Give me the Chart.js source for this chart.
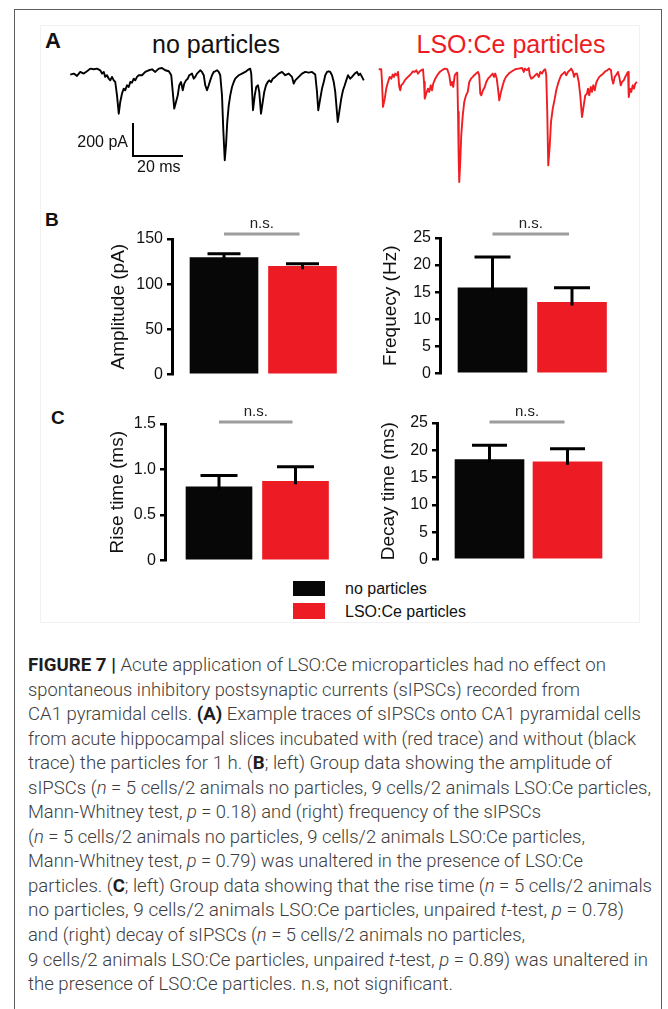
<!DOCTYPE html>
<html lang="en">
<head>
<meta charset="utf-8">
<title>Figure 7 - sIPSCs with and without LSO:Ce particles</title>
<script src="https://cdn.jsdelivr.net/npm/chart.js@4.4.1/dist/chart.umd.min.js"></script>
<style>
  html, body { margin: 0; padding: 0; background: #fff; }
  body { position: relative; width: 668px; height: 1009px; overflow: hidden;
         font-family: "Liberation Sans", Arial, Helvetica, sans-serif; color: #111; }
  #frame { position: absolute; left: 14px; top: 9px; width: 648px; height: 1060px;
           border: 1.5px solid #5e5e5e; box-sizing: border-box; }
  #figbox { position: absolute; left: 40px; top: 25px; width: 600px; height: 598px;
            border: 1px solid #f1f1f1; box-sizing: border-box; }
  canvas { position: absolute; }
  .lbl { position: absolute; white-space: nowrap; line-height: 1; }
  .swatch { position: absolute; left: 293px; width: 32px; }
  #caption { position: absolute; left: 28px; top: 653px; color: #3d3d3d; font-size: 18px;
             font-family: Roboto, "Liberation Sans", Arial, sans-serif; font-weight: 300; }
  #caption div { height: 24.55px; line-height: 24.55px; white-space: nowrap; transform-origin: 0 50%; }
  #caption b { color: #1e1e1e; font-weight: 700; }
</style>
</head>
<body>
<div id="frame"></div>
<div id="figbox"></div>

<canvas id="traceBlack"></canvas>
<canvas id="traceRed"></canvas>
<canvas id="bAmp"></canvas>
<canvas id="bFreq"></canvas>
<canvas id="cRise"></canvas>
<canvas id="cDecay"></canvas>

<div class="swatch" id="swBlack" style="top:581px;height:15px;"></div>
<div class="swatch" id="swRed" style="top:603px;height:16px;"></div>

<div id="caption">
  <div><b>FIGURE 7 |</b> Acute application of LSO:Ce microparticles had no effect on</div>
  <div>spontaneous inhibitory postsynaptic currents (sIPSCs) recorded from</div>
  <div>CA1 pyramidal cells. <b>(A)</b> Example traces of sIPSCs onto CA1 pyramidal cells</div>
  <div>from acute hippocampal slices incubated with (red trace) and without (black</div>
  <div>trace) the particles for 1 h. (<b>B</b>; left) Group data showing the amplitude of</div>
  <div>sIPSCs (<i>n</i> = 5 cells/2 animals no particles, 9 cells/2 animals LSO:Ce particles,</div>
  <div>Mann-Whitney test, <i>p</i> = 0.18) and (right) frequency of the sIPSCs</div>
  <div>(<i>n</i> = 5 cells/2 animals no particles, 9 cells/2 animals LSO:Ce particles,</div>
  <div>Mann-Whitney test, <i>p</i> = 0.79) was unaltered in the presence of LSO:Ce</div>
  <div>particles. (<b>C</b>; left) Group data showing that the rise time (<i>n</i> = 5 cells/2 animals</div>
  <div>no particles, 9 cells/2 animals LSO:Ce particles, unpaired <i>t</i>-test, <i>p</i> = 0.78)</div>
  <div>and (right) decay of sIPSCs (<i>n</i> = 5 cells/2 animals no particles,</div>
  <div>9 cells/2 animals LSO:Ce particles, unpaired <i>t</i>-test, <i>p</i> = 0.89) was unaltered in</div>
  <div>the presence of LSO:Ce particles. n.s, not significant.</div>
</div>

<script>
// ---------------------------------------------------------------
// Data
// ---------------------------------------------------------------
const groups = ['no particles', 'LSO:Ce particles'];

// Panel B / C group means and upward error (SEM)
const amplitudeMean = [129.5, 119.7];
const amplitudeErr  = [4.1, 2.9];
const frequencyMean = [15.8, 13.1];
const frequencyErr  = [5.7, 2.7];
const riseMean      = [0.81, 0.87];
const riseErr       = [0.125, 0.16];
const decayMean     = [18.3, 17.9];
const decayErr      = [2.6, 2.4];

// Tick values / labels
const amplitudeTicks = [0, 50, 100, 150];
const frequencyTicks = [0, 5, 10, 15, 20, 25];
const riseTicks      = [0, 0.5, 1.0, 1.5];
const riseTickLabels = ['0', '0.5', '1.0', '1.5'];
const decayTicks     = [0, 5, 10, 15, 20, 25];

// Panel A example traces (time in ms, current in pA, 0 = top of baseline)
const blackTimeMs = [
  0.1, 1.5, 2.8, 4.1, 5.5, 6.8, 8.1, 9.5, 10.8, 12.1,
  12.8, 13.5, 14.1, 14.8, 15.5, 16.1, 16.8, 17.5, 18.1, 18.8,
  19.5, 20.1, 20.8, 21.5, 22.1, 22.8, 23.5, 24.1, 24.8, 25.5,
  26.1, 26.8, 27.5, 28.8, 30.1, 31.5, 32.8, 34.1, 35.5, 36.8,
  38.1, 39.5, 40.1, 40.5, 41.1, 41.7, 42.4, 43.1, 43.7, 44.4,
  45.1, 45.7, 46.4, 47.1, 47.7, 48.8, 49.5, 50.1, 50.8, 51.5,
  52.1, 52.8, 53.5, 54.1, 54.8, 55.5, 56.1, 56.8, 57.5, 58.1,
  58.8, 59.5, 60.1, 60.8, 61.3, 61.9, 62.4, 62.9, 63.5, 64.1,
  64.8, 65.5, 66.1, 66.8, 67.5, 68.8, 70.1, 71.5, 72.1, 72.5,
  73.2, 73.9, 74.5, 75.2, 75.7, 76.4, 77.1, 77.7, 78.4, 79.1,
  79.7, 80.4, 81.1, 82.1, 83.5, 84.8, 86.1, 87.5, 88.8, 89.5,
  90.1, 91.5, 92.8, 94.1, 95.5, 96.8, 98.1, 98.8, 99.3, 100.1,
  100.8, 101.5, 102.1, 102.8, 103.5, 104.1, 104.8, 105.5, 106.1, 107.1,
  107.9, 108.5, 109.2, 109.9, 110.5, 111.2, 112.1, 112.8, 113.9, 114.8,
  115.5, 116.1, 116.8, 117.5
];
const blackCurrentPA = [
  -28, -22, -36, -12, -22, -8, 8, 4, 8, -2,
  -22, -12, -42, -32, -53, -63, -42, -63, -73, -154,
  -265, -194, -143, -113, -123, -93, -103, -73, -77, -53,
  -63, -42, -32, -32, -12, -2, 4, -12, 8, 12,
  -2, -8, -22, -32, -133, -234, -194, -154, -93, -73,
  -123, -83, -63, -53, -32, -22, -53, -42, -22, -12,
  -2, -12, -32, -93, -123, -93, -63, -32, -12, -8,
  -2, -12, -32, -154, -356, -547, -457, -315, -214, -154,
  -103, -73, -53, -42, -32, -22, -12, 4, 8, -22,
  -244, -154, -103, -93, -133, -265, -194, -133, -93, -73,
  -63, -73, -53, -42, -22, -12, -32, -22, -42, -83,
  -63, -42, -22, -12, -16, -12, -28, -133, -244, -174,
  -113, -73, -32, -12, -8, -12, -32, -73, -133, -315,
  -234, -174, -123, -93, -63, -32, -53, -42, -22, -12,
  -32, -22, -42, -63
];
const redTimeMs = [
  0.3, 1.3, 1.6, 2.0, 2.7, 3.3, 4.0, 4.7, 5.3, 5.9,
  6.4, 6.9, 7.6, 8.0, 8.5, 8.9, 9.3, 10.0, 10.7, 11.3,
  12.0, 12.7, 13.3, 14.0, 14.7, 15.3, 16.0, 16.7, 17.3, 18.0,
  18.4, 18.7, 19.3, 20.0, 20.5, 21.1, 21.6, 22.1, 22.9, 23.7,
  24.7, 25.6, 26.7, 27.7, 28.5, 29.1, 29.6, 30.1, 30.7, 31.2,
  31.7, 32.0, 32.3, 32.5, 32.9, 33.3, 33.9, 34.5, 35.2, 35.9,
  36.5, 37.2, 37.9, 38.5, 39.2, 40.0, 40.5, 40.9, 41.3, 42.0,
  42.7, 43.3, 44.0, 44.7, 45.3, 45.9, 46.4, 46.9, 47.5, 48.0,
  48.5, 49.2, 49.9, 50.5, 51.2, 52.3, 53.6, 54.9, 56.3, 57.6,
  58.3, 58.7, 59.6, 60.3, 60.7, 61.3, 62.3, 62.9, 63.6, 64.3,
  64.9, 65.6, 66.3, 66.9, 67.3, 67.7, 68.1, 68.7, 69.2, 69.9,
  70.7, 71.3, 72.0, 72.7, 73.3, 74.0, 74.7, 75.3, 76.0, 76.7,
  77.3, 78.0, 78.4, 78.9, 79.6, 80.3, 80.9, 81.6, 82.3, 82.9,
  83.6, 84.0, 84.5, 85.1, 85.6, 86.1, 86.7, 87.2, 87.7, 88.5,
  89.3, 90.1, 90.9, 91.7, 92.5, 93.2, 93.6, 94.1, 94.7, 95.2,
  96.0, 96.5, 97.1, 97.6, 98.3, 98.9, 99.6, 100.0, 100.3, 100.8,
  101.3, 101.9, 102.4, 102.9, 103.6
];
const redCurrentPA = [
  4, 4, -73, -224, -174, -113, -73, -42, -53, -28,
  -42, -22, -32, -12, -103, -123, -93, -83, -63, -53,
  -42, -32, -22, -8, -12, -2, -22, -8, -2, 4,
  -73, -174, -143, -113, -133, -93, -123, -83, -53, -32,
  -12, -2, 8, 4, -32, -93, -73, -103, -32, -22,
  -16, -255, -558, -679, -558, -396, -275, -194, -154, -133,
  -73, -53, -42, -32, -22, -12, -32, -143, -154, -123,
  -103, -73, -53, -42, -32, -22, -42, -22, -53, -113,
  -184, -133, -93, -63, -42, -22, -8, 4, 8, 12,
  -12, 8, -2, 12, -32, -53, -42, -32, -22, -42,
  -12, -22, -2, 4, -32, -255, -578, -457, -315, -234,
  -174, -123, -83, -53, -32, -22, -12, -32, -12, -2,
  8, -12, -42, -22, -22, -73, -154, -285, -214, -154,
  -143, -113, -154, -103, -133, -93, -123, -83, -63, -42,
  -32, -22, -8, -2, 8, -2, -53, -83, -42, -32,
  -12, -42, -93, -73, -63, -42, -22, -12, -164, -113,
  -133, -93, -113, -83, -73
];

// Scale bar: 200 pA / 20 ms
const SCALE_BAR_MS = 20;
const SCALE_BAR_PA = 200;

// ---------------------------------------------------------------
// Styles / layout
// ---------------------------------------------------------------
const FONT = '"Liberation Sans", Arial, Helvetica, sans-serif';
const BLACK = '#070707';
const RED = '#ED1C24';
const groupColors = [BLACK, RED];

document.getElementById('swBlack').style.background = BLACK;
document.getElementById('swRed').style.background = RED;

function placeLabel(text, x, cy, anchor, size, color, bold) {
  const el = document.createElement('div');
  el.className = 'lbl';
  el.textContent = text;
  el.style.left = x + 'px';
  el.style.top = cy + 'px';
  el.style.fontSize = size + 'px';
  el.style.color = color || '#111';
  if (bold) el.style.fontWeight = 'bold';
  const tx = anchor === 'center' ? '-50%' : anchor === 'right' ? '-100%' : '0';
  el.style.transform = 'translate(' + tx + ', -50%)';
  document.body.appendChild(el);
}

placeLabel('A', 45, 41, 'left', 22, '#111', true);
placeLabel('B', 45, 219, 'left', 19, '#111', true);
placeLabel('C', 51, 417, 'left', 19, '#111', true);
placeLabel('no particles', 216, 44, 'center', 25, '#111');
placeLabel('LSO:Ce particles', 511, 44, 'center', 25, RED);
placeLabel('200 pA', 128, 142, 'right', 16, '#111');
placeLabel('20 ms', 137, 167, 'left', 16, '#111');
placeLabel(groups[0], 345, 589, 'left', 16, '#111');
placeLabel(groups[1], 345, 612, 'left', 16, '#111');

// ---------------------------------------------------------------
// Panel A traces
// ---------------------------------------------------------------
const TRACE_PA_MIN = -697, TRACE_PA_MAX = 30;
const PX_PER_MS = 2.5;
const TRACE_PAD = 4;

function traceChart(id, left, top, timeMs, currentPA, color, extraSets) {
  const tMax = timeMs[timeMs.length - 1];
  const canvas = document.getElementById(id);
  canvas.width = Math.round(tMax * PX_PER_MS) + 2 * TRACE_PAD;
  canvas.height = 120 + 2 * TRACE_PAD;
  canvas.style.left = (left - TRACE_PAD) + 'px';
  canvas.style.top = (top - TRACE_PAD) + 'px';
  const sets = [{
    data: timeMs.map((t, i) => ({ x: t, y: currentPA[i] })),
    borderColor: color,
    borderWidth: 1.9,
    pointRadius: 0,
    tension: 0,
    borderJoinStyle: 'round',
    clip: false
  }].concat(extraSets || []);
  return new Chart(canvas, {
    type: 'line',
    data: { datasets: sets },
    options: {
      responsive: false,
      animation: false,
      layout: { padding: TRACE_PAD },
      plugins: { legend: { display: false }, tooltip: { enabled: false } },
      scales: {
        x: { type: 'linear', display: false, min: 0, max: Math.round(tMax * PX_PER_MS) / PX_PER_MS },
        y: { type: 'linear', display: false, min: TRACE_PA_MIN, max: TRACE_PA_MAX }
      }
    }
  });
}

// scale bar corner (ms, pA) inside the black trace's axes
const barCornerMs = 25.2, barCornerPA = -521;
const scaleBarSet = {
  data: [
    { x: barCornerMs, y: barCornerPA + SCALE_BAR_PA },
    { x: barCornerMs, y: barCornerPA },
    { x: barCornerMs + SCALE_BAR_MS, y: barCornerPA }
  ],
  borderColor: '#000',
  borderWidth: 2,
  pointRadius: 0,
  tension: 0,
  borderJoinStyle: 'miter',
  clip: false
};

traceChart('traceBlack', 70, 65, blackTimeMs, blackCurrentPA, '#000', [scaleBarSet]);
traceChart('traceRed', 378, 65, redTimeMs, redCurrentPA, '#F01E23');

// ---------------------------------------------------------------
// Panels B / C bar charts
// ---------------------------------------------------------------
function barChart(id, g, means, errs, ticks, tickLabels, yTitle) {
  const TITLE_LH = 19 * 1.2;
  const yAxisW = Math.round(g.axisX - g.titleX + TITLE_LH / 2);
  const padTop = 32, padBottom = 12, padRight = 4;
  const areaW = Math.round(g.c2 + g.barW / 2 + 6 - g.axisX);
  const spacing = g.c2 - g.c1;
  const canvas = document.getElementById(id);
  canvas.width = yAxisW + areaW + padRight;
  canvas.height = (g.yBottom - g.yTop) + padTop + padBottom;
  const canvasTop = g.yTop - padTop;
  canvas.style.left = (g.axisX - yAxisW) + 'px';
  canvas.style.top = canvasTop + 'px';

  const marks = {
    id: 'marks',
    afterDatasetsDraw(chart) {
      const { ctx, scales: { x, y } } = chart;
      ctx.save();
      // error bars (upward only)
      ctx.strokeStyle = '#000';
      ctx.lineWidth = 3;
      ctx.lineCap = 'butt';
      means.forEach((m, i) => {
        const px = x.getPixelForValue(i + 1);
        const y0 = y.getPixelForValue(m) + 3;
        const y1 = y.getPixelForValue(m + errs[i]);
        ctx.beginPath();
        ctx.moveTo(px, y0); ctx.lineTo(px, y1);
        ctx.moveTo(px - g.capW / 2, y1); ctx.lineTo(px + g.capW / 2, y1);
        ctx.stroke();
      });
      // n.s. bracket
      const x1 = x.getPixelForValue(1), x2 = x.getPixelForValue(2) - 3;
      const ly = g.nsY - canvasTop;
      ctx.strokeStyle = '#9c9c9c';
      ctx.beginPath();
      ctx.moveTo(x1, ly); ctx.lineTo(x2, ly);
      ctx.stroke();
      ctx.fillStyle = '#222';
      ctx.font = '15px ' + FONT;
      ctx.textAlign = 'center';
      ctx.textBaseline = 'middle';
      ctx.fillText('n.s.', (x1 + x2) / 2, ly - 10);
      ctx.restore();
    }
  };

  return new Chart(canvas, {
    type: 'bar',
    data: {
      datasets: [{
        data: means.map((m, i) => ({ x: i + 1, y: m })),
        backgroundColor: groupColors,
        borderWidth: 0,
        barThickness: g.barW
      }]
    },
    options: {
      responsive: false,
      animation: false,
      layout: { padding: { top: padTop, bottom: padBottom, left: 0, right: padRight } },
      plugins: { legend: { display: false }, tooltip: { enabled: false } },
      scales: {
        x: {
          type: 'linear',
          display: false,
          offset: false,
          min: 1 - (g.c1 - g.axisX) / spacing,
          max: 1 + (g.axisX + areaW - g.c1) / spacing
        },
        y: {
          min: 0,
          max: ticks[ticks.length - 1],
          afterFit: (s) => { s.width = yAxisW; },
          afterBuildTicks: (s) => { s.ticks = ticks.map(v => ({ value: v })); },
          border: { display: true, color: '#000', width: 3 },
          grid: { display: true, drawOnChartArea: false, drawTicks: true, tickLength: 5,
                  color: '#000', lineWidth: 2.5 },
          ticks: {
            autoSkip: false,
            padding: 4,
            color: '#111',
            font: { size: 16, family: FONT },
            callback: (v, i) => tickLabels ? tickLabels[i] : String(v)
          },
          title: { display: true, text: yTitle, color: '#111', padding: 0,
                   font: { size: 19, family: FONT, lineHeight: 1.2 } }
        }
      }
    },
    plugins: [marks]
  });
}

Chart.defaults.font.family = FONT;

barChart('bAmp',
  { axisX: 172, titleX: 118, yTop: 239, yBottom: 376, c1: 224, c2: 302.5, barW: 68, capW: 33, nsY: 234 },
  amplitudeMean, amplitudeErr, amplitudeTicks, null, 'Amplitude (pA)');
barChart('bFreq',
  { axisX: 440, titleX: 390, yTop: 238, yBottom: 375, c1: 492.5, c2: 572, barW: 69, capW: 36, nsY: 234 },
  frequencyMean, frequencyErr, frequencyTicks, null, 'Frequecy (Hz)');
barChart('cRise',
  { axisX: 165, titleX: 117, yTop: 424, yBottom: 562, c1: 219, c2: 295.5, barW: 66, capW: 37, nsY: 422 },
  riseMean, riseErr, riseTicks, riseTickLabels, 'Rise time (ms)');
barChart('cDecay',
  { axisX: 437, titleX: 388, yTop: 423, yBottom: 561, c1: 489.5, c2: 567.5, barW: 69, capW: 35, nsY: 422 },
  decayMean, decayErr, decayTicks, null, 'Decay time (ms)');

// ---------------------------------------------------------------
// Caption: condensed look, each line fitted to the reference's right edge
// ---------------------------------------------------------------
const CAPTION_LEFT = 28;
const captionLineEnds = [606, 580, 641, 636, 612, 651, 541, 585, 583, 652, 624, 525, 648, 453];
function fitCaption() {
  document.querySelectorAll('#caption div').forEach((d, i) => {
    d.style.transform = 'none';
    const r = document.createRange();
    r.selectNodeContents(d);
    const w = r.getBoundingClientRect().width;
    d.style.transform = 'scaleX(' + ((captionLineEnds[i] - CAPTION_LEFT) / w) + ')';
  });
}
fitCaption();
if (document.fonts && document.fonts.ready) document.fonts.ready.then(fitCaption);
</script>
</body>
</html>
